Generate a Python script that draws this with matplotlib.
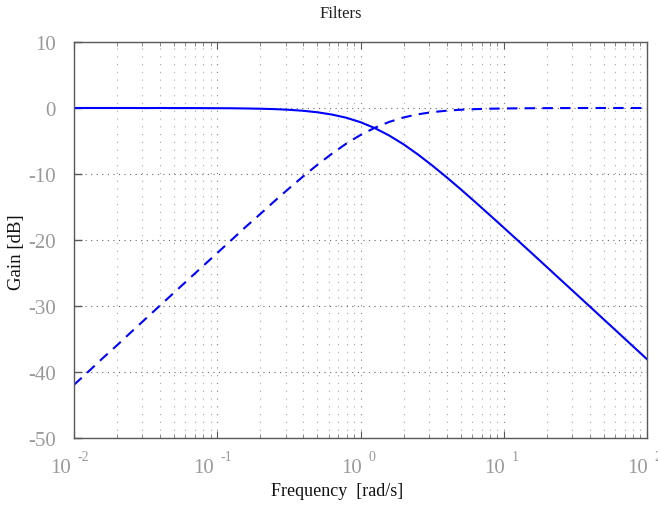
import matplotlib
matplotlib.use('Agg')
import matplotlib.pyplot as plt
from matplotlib.ticker import LogLocator, NullFormatter

# frequency grid [rad/s] and gains [dB] of the two first-order filters
freq = [0.01, 0.0126, 0.0158, 0.02, 0.0251, 0.0316, 0.0398, 0.0501, 0.0631, 0.0794,
        0.1, 0.126, 0.158, 0.2, 0.251, 0.316, 0.398, 0.501, 0.631, 0.794,
        1.0, 1.26, 1.58, 2.0, 2.51, 3.16, 3.98, 5.01, 6.31, 7.94,
        10.0, 12.6, 15.8, 20.0, 25.1, 31.6, 39.8, 50.1, 63.1, 79.4, 100.0]

lowpass_db = [0.0, 0.0, 0.0, 0.0, 0.0, -0.01, -0.0, -0.01, -0.01, -0.02,
              -0.03, -0.04, -0.07, -0.11, -0.17, -0.27, -0.42, -0.65, -0.99, -1.47,
              -2.15, -3.05, -4.15, -5.51, -7.02, -8.69, -10.47, -12.32, -14.23, -16.17,
              -18.13, -20.11, -22.06, -24.10, -26.07, -28.06, -30.06, -32.06, -34.06,
              -36.06, -38.06]

highpass_db = [-41.94, -39.94, -37.94, -35.94, -33.94, -31.94, -29.94, -27.95, -25.95, -23.96,
               -21.97, -19.98, -18.01, -16.05, -14.11, -12.21, -10.36, -8.59, -6.93, -5.41,
               -4.09, -2.99, -2.12, -1.43, -0.96, -0.63, -0.41, -0.26, -0.17, -0.11,
               -0.07, -0.05, -0.03, -0.02, -0.01, -0.01, 0.0, 0.0, 0.0, 0.0, 0.0]

y_ticks = [10, 0, -10, -20, -30, -40, -50]
x_decades = [0.01, 0.1, 1.0, 10.0, 100.0]
x_exponents = ['-2', '-1', '0', '1', '2']

serif = ['Liberation Serif', 'DejaVu Serif']
label_grey = '#9a9a9a'

fig = plt.figure(figsize=(6.58, 5.06), dpi=100)
ax = fig.add_axes([74 / 658, 1 - 439 / 506, 573 / 658, 396 / 506])

ax.semilogx(freq, lowpass_db, color='#0000ff', linewidth=1.5, linestyle='-')
ax.semilogx(freq, highpass_db, color='#0000ff', linewidth=1.5, linestyle=(0, (5, 3.5)))

ax.set_xlim(0.01, 100)
ax.set_ylim(-50, 10)
ax.set_yticks(y_ticks)
ax.set_yticklabels([str(v) for v in y_ticks], fontsize=15, color=label_grey, family=serif)

ax.xaxis.set_major_locator(LogLocator(base=10, numticks=10))
ax.xaxis.set_minor_locator(LogLocator(base=10, subs=range(2, 10), numticks=20))
ax.xaxis.set_major_formatter(NullFormatter())
ax.xaxis.set_minor_formatter(NullFormatter())

ax.tick_params(axis='y', which='major', direction='in', length=6, width=1,
               color='0.35', left=True, right=False, pad=13)
ax.tick_params(axis='x', which='major', direction='in', length=5, width=0.8,
               color='0.35', top=True, bottom=True)
ax.tick_params(axis='x', which='minor', direction='in', length=3, width=0.6,
               color='0.45', top=True, bottom=True)

ax.grid(True, which='major', axis='y', color='0.4', linestyle=(0, (1, 4)), linewidth=0.8)
ax.grid(True, which='major', axis='x', color='0.5', linestyle=(0, (1, 6)), linewidth=0.8)
ax.grid(True, which='minor', axis='x', color='0.65', linestyle=(0, (1, 6)), linewidth=0.8)

for s in ax.spines.values():
    s.set_color('0.35')
    s.set_linewidth(1.0)

# decade labels drawn as "10" plus a raised exponent
for f, e in zip(x_decades, x_exponents):
    if e.startswith('-'):
        base_dx, exp_dx = -2.5, 2.5
    else:
        base_dx, exp_dx = 1.0, 5.5
    ax.annotate('10', xy=(f, 0), xycoords=('data', 'axes fraction'),
                xytext=(base_dx, -21), textcoords='offset points',
                ha='right', va='center', fontsize=15, color=label_grey,
                family=serif, annotation_clip=False)
    ax.annotate(e, xy=(f, 0), xycoords=('data', 'axes fraction'),
                xytext=(exp_dx, -13), textcoords='offset points',
                ha='left', va='center', fontsize=10, color=label_grey,
                family=serif, annotation_clip=False)

fig.text(341 / 658, 1 - 14 / 506, 'Filters', ha='center', va='center',
         fontsize=12, family=serif, color='#222222')
fig.text(337 / 658, 1 - 492 / 506, 'Frequency  [rad/s]', ha='center', va='center',
         fontsize=13, family=serif, color='#111111')
fig.text(16 / 658, 1 - 252 / 506, 'Gain [dB]', ha='center', va='center',
         rotation=90, fontsize=13.5, family=serif, color='#111111')

fig.savefig('out.png', dpi=100)
